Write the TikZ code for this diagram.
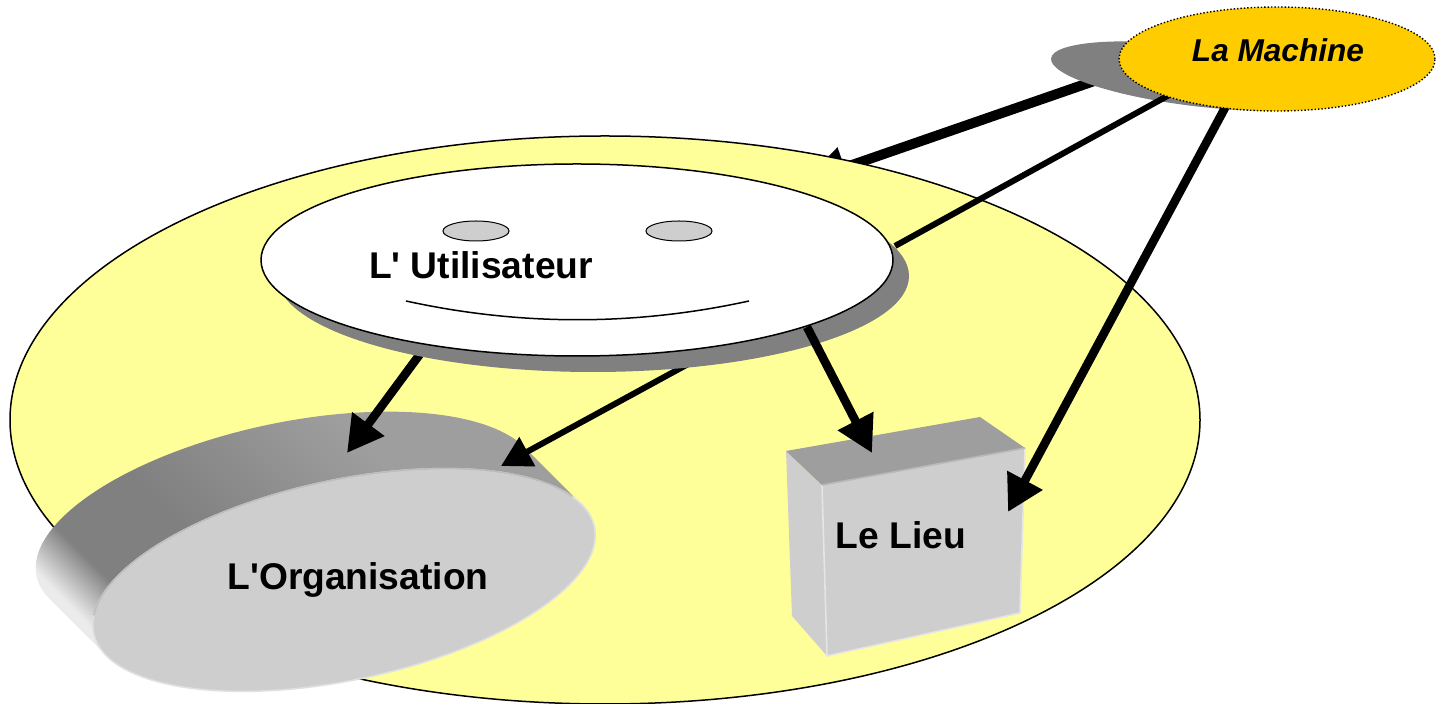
\documentclass[tikz,border=0pt]{standalone}
\usepackage{tikz}
\usepackage{fontspec}
\usetikzlibrary{shapes.geometric,arrows.meta}
\newfontfamily\labelfont{Liberation Sans}
\definecolor{lightyellow}{RGB}{255, 255, 153}
\definecolor{machineyellow}{RGB}{255, 204, 0}
\definecolor{facegray}{RGB}{206, 206, 206}
\definecolor{topgray}{RGB}{158, 158, 158}
\definecolor{shadowgray}{RGB}{128, 128, 128}
\pgfdeclarehorizontalshading{bandshade}{100bp}{color(0bp)=(white); color(27bp)=(white!92!black); color(32bp)=(shadowgray); color(42bp)=(shadowgray); color(62bp)=(topgray); color(100bp)=(topgray)}
\tikzset{
  oval/.style={draw,ellipse,inner sep=0pt,outer sep=0pt},
  shadowoval/.style={ellipse,fill=shadowgray,inner sep=0pt,outer sep=0pt},
  textlabel/.style={font=\fontsize{18.6}{22}\labelfont\bfseries,inner sep=0pt},
  boldline/.style={line width=4.3pt},
  thinline/.style={line width=3pt},
  bigtip/.style={-{Triangle[length=18pt,width=19pt]}},
  smalltip/.style={-{Triangle[length=15pt,width=16pt]}}
}

\begin{document}
\begin{tikzpicture}[x=0.5pt,y=-0.5pt]
        \useasboundingbox (0,0) rectangle (1446,704);

        \coordinate (v1) at (605,420);
        \coordinate (v2) at (577,260);
        \coordinate (v3) at (593,276);
        \coordinate (v4) at (1277,59);
        \coordinate (v5) at (1195,76);
        \coordinate (v6) at (344,580);

        % ends of the connectors
        \coordinate (e1) at (1100,79);
        \coordinate (e2) at (803,182);
        \coordinate (e3) at (1171,94);
        \coordinate (e4) at (895,246);
        \coordinate (e5) at (1226,106);
        \coordinate (e6) at (1008,512);
        \coordinate (e7) at (423,350);
        \coordinate (e8) at (347,453);
        \coordinate (e9) at (690,363);
        \coordinate (e10) at (501,466);
        \coordinate (e11) at (807,327);
        \coordinate (e12) at (872,453);

        % corners of the box
        \coordinate (b1) at (786,451);
        \coordinate (b2) at (980,417);
        \coordinate (b3) at (1025,448);
        \coordinate (b4) at (822,485);
        \coordinate (b5) at (827,656);
        \coordinate (b6) at (1020,613);
        \coordinate (b7) at (792,616);

        \draw[boldline,line width=5pt,-{Triangle[length=22pt,width=20pt]}] (e1) -- (e2);
        \node[shadowoval,minimum width=145pt,minimum height=30pt,rotate=-7] (MachineShadow) at (v5){};
        \node[oval,fill=lightyellow,line width=0.75pt,minimum width=595pt,minimum height=284pt] (Monde) at (v1){};

        % the extruded side of the organisation
        \begin{scope}[shift={(287,523)},rotate=12,x=0.5pt,y=0.5pt]
            \shade[shading=bandshade,shading angle=45] (14.3:256 and 100) arc[start angle=14.3,end angle=194.3,x radius=256,y radius=100]
                -- ++(43.9,-67.6) arc[start angle=194.3,end angle=374.3,x radius=256,y radius=100] -- cycle;
        \end{scope}
        \node[oval,draw=white!88!black,fill=facegray,line width=0.8pt,minimum width=256pt,minimum height=100pt,rotate=12] (Organisation) at (v6){};
        \begin{scope}[shift={(v6)},rotate=12,x=0.5pt,y=0.5pt]
            \draw[white!74!black,line width=0.8pt] (20:256 and 100) arc[start angle=20,end angle=170,x radius=256,y radius=100];
        \end{scope}
        \node[textlabel] (OrganisationText) at (358,580){L'Organisation};

        % the box
        \fill[facegray] (b1) -- (b4) -- (b5) -- (b7) -- cycle;
        \fill[topgray] (b1) -- (b2) -- (b3) -- (b4) -- cycle;
        \fill[facegray] (b4) -- (b3) -- (b6) -- (b5) -- cycle;
        \draw[white!90!black,line width=0.8pt] (b4) -- (b5) -- (b6) -- (b3);
        \draw[white!72!black,line width=0.8pt] (b4) -- (b3);
        \node[textlabel] (Lieu) at (901,535){Le Lieu};

        \draw[boldline,bigtip] (e7) -- (e8);
        \draw[thinline,smalltip] (e9) -- (e10);
        \draw[thinline] (e3) -- (e4);

        \node[shadowoval,minimum width=316pt,minimum height=96pt] (UtilisateurShadow) at (v3){};
        \node[oval,fill=white,line width=0.75pt,minimum width=316pt,minimum height=96pt] (Utilisateur) at (v2){};
        \node[oval,fill=facegray,line width=0.5pt,minimum width=33pt,minimum height=10pt] (EyeLeft) at (476,231){};
        \node[oval,fill=facegray,line width=0.5pt,minimum width=33pt,minimum height=10pt] (EyeRight) at (679,231){};
        \coordinate (s1) at (406,301);
        \coordinate (s2) at (749,301);
        \draw[line width=0.75pt] (s1) .. controls (520,326) and (635,326) .. (s2);
        \node[textlabel] (UtilisateurText) at (481,265){L' Utilisateur};

        \draw[boldline,bigtip] (e11) -- (e12);
        \draw[boldline,bigtip] (e5) -- (e6);

        \node[oval,fill=machineyellow,densely dotted,line width=0.7pt,minimum width=158pt,minimum height=52pt] (Machine) at (v4){};
        \node[textlabel,font=\fontsize{15.8}{18}\labelfont\bfseries\itshape] (MachineText) at (1278,50){La Machine};
\end{tikzpicture}
\end{document}
